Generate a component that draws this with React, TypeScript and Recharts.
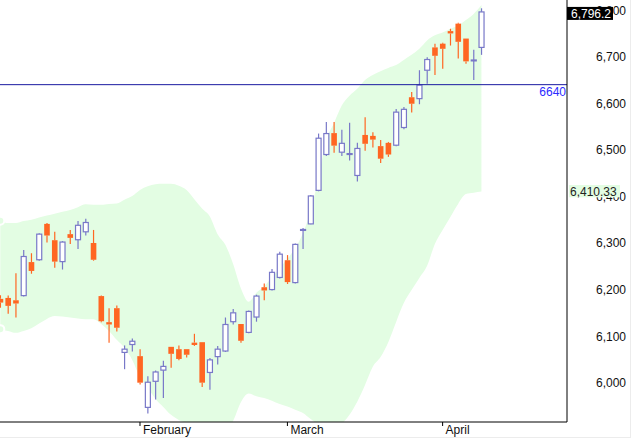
import { Area, Bar, CartesianGrid, ComposedChart, ReferenceLine, XAxis, YAxis } from 'recharts';

// daily OHLC, oldest first
const opens = [
  6180, 6182, 6177, 6187, 6259, 6264, 6341, 6306, 6260, 6319, 6307, 6324, 6300, 6186, 6130, 6160, 6065, 6082, 6057, 5947,
  6003, 6027, 6077, 6072, 6072, 6086, 6087, 6022, 6056, 6068, 6131, 6126, 6108, 6141, 6205, 6200, 6226, 6263, 6215, 6327,
  6341, 6413, 6490, 6536, 6495, 6490, 6445, 6532, 6530, 6508, 6515, 6510, 6548, 6613, 6610, 6671, 6720, 6728, 6755, 6771,
  6739, 6691, 6720
];
const highs = [
  6188, 6187, 6235, 6285, 6278, 6321, 6343, 6324, 6304, 6328, 6347, 6352, 6328, 6187, 6160, 6166, 6080, 6095, 6072, 6014,
  6026, 6047, 6077, 6080, 6072, 6105, 6087, 6053, 6079, 6140, 6158, 6126, 6155, 6189, 6213, 6244, 6281, 6274, 6299, 6332,
  6403, 6535, 6560, 6560, 6543, 6558, 6515, 6570, 6538, 6521, 6517, 6588, 6592, 6624, 6671, 6699, 6728, 6730, 6760, 6773,
  6739, 6715, 6804
];
const lows = [
  6161, 6148, 6140, 6185, 6234, 6262, 6301, 6247, 6243, 6298, 6287, 6316, 6262, 6130, 6086, 6110, 6029, 6067, 5996, 5934,
  5964, 5967, 6032, 6048, 6054, 6079, 5991, 5985, 6039, 6066, 6125, 6086, 6106, 6131, 6177, 6198, 6224, 6212, 6213, 6287,
  6340, 6411, 6487, 6494, 6487, 6477, 6432, 6498, 6505, 6472, 6485, 6508, 6544, 6580, 6598, 6642, 6661, 6674, 6724, 6696,
  6685, 6650, 6704
];
const closes = [
  6172, 6165, 6170, 6271, 6240, 6319, 6316, 6260, 6302, 6311, 6338, 6344, 6264, 6132, 6125, 6118, 6072, 6089, 6000, 6001,
  6023, 6035, 6062, 6051, 6060, 6081, 6000, 6049, 6072, 6125, 6150, 6090, 6153, 6186, 6198, 6237, 6276, 6216, 6297, 6329,
  6401, 6525, 6535, 6509, 6514, 6492, 6503, 6513, 6522, 6481, 6490, 6581, 6587, 6599, 6639, 6694, 6702, 6717, 6750, 6732,
  6690, 6693, 6796.2
];

// bollinger bands
const upperBand = [
  6348, 6343, 6343, 6347, 6350, 6355, 6359, 6363, 6367, 6371, 6377, 6383, 6382, 6382, 6384, 6385, 6393, 6401, 6414, 6422,
  6426, 6427, 6427, 6423, 6414, 6394, 6374, 6357, 6319, 6296, 6255, 6203, 6174, 6193, 6207, 6226, 6246, 6266, 6289, 6321,
  6369, 6440, 6520, 6557, 6595, 6616, 6631, 6650, 6661, 6669, 6676, 6682, 6693, 6704, 6717, 6735, 6746, 6752, 6760, 6767,
  6779, 6792, 6811
];
const lowerBand = [
  6115, 6111, 6107, 6111, 6117, 6127, 6137, 6143, 6142, 6140, 6138, 6136, 6136, 6126, 6111, 6092, 6075, 6049, 6012, 5989,
  5965, 5948, 5931, 5920, 5913, 5900, 5890, 5884, 5886, 5898, 5918, 5958, 5977, 5971, 5967, 5961, 5954, 5949, 5942, 5935,
  5922, 5910, 5900, 5900, 5912, 5931, 5959, 5995, 6034, 6055, 6087, 6130, 6171, 6199, 6225, 6251, 6298, 6328, 6356, 6384,
  6405, 6408, 6410.33
];

const monthTicks = [18, 37, 57];
const monthLabels = ['February', 'March', 'April'];
const priceTicks = [6000, 6100, 6200, 6300, 6400, 6500, 6600, 6700, 6800];
const resistance = 6640;

const UP = '#7878c8';
const DOWN = '#ff6622';
const BAND = '#e3fde3';
const FONT = 'Arial, "Liberation Sans", sans-serif';

const data = opens.map((open, i) => ({
  i,
  open,
  high: highs[i],
  low: lows[i],
  close: closes[i],
  range: [lows[i], highs[i]],
  band: [lowerBand[i], upperBand[i]]
}));

function Candle(props: any) {
  const { x, y, width, height, payload } = props;
  const { open, close, high, low } = payload;
  const yTop = Math.min(y, y + height);
  const h = Math.abs(height);
  const cx = x + width / 2;
  const toY = (v: number) => yTop + ((high - v) / (high - low)) * h;
  const bodyTop = toY(Math.max(open, close));
  const bodyBottom = toY(Math.min(open, close));
  const up = close >= open;
  const color = up ? UP : DOWN;

  return (
    <g>
      <line x1={cx} x2={cx} y1={yTop} y2={bodyTop} stroke={color} strokeWidth={1.2} />
      <line x1={cx} x2={cx} y1={bodyBottom} y2={yTop + h} stroke={color} strokeWidth={1.2} />
      {up ? (
        <rect x={cx - 2.5} y={bodyTop} width={5} height={Math.max(bodyBottom - bodyTop, 0.5)} fill="#fff" stroke={color} strokeWidth={1.2} />
      ) : (
        <rect x={cx - 2.8} y={bodyTop} width={5.6} height={Math.max(bodyBottom - bodyTop, 1.5)} fill={color} />
      )}
    </g>
  );
}

function MonthTick({ x, payload }: any) {
  const label = monthLabels[monthTicks.indexOf(payload.value)];
  return (
    <text x={x + 3} y={434} fontSize={12} fontFamily={FONT} fill="#111">
      {label}
    </text>
  );
}

// price labels are drawn as reference-line labels so the value boxes can sit on top of them
function PriceLabel({ viewBox, value }: any) {
  return (
    <text x={626} y={viewBox.y + 4.5} fontSize={12} fontFamily={FONT} fill="#111" textAnchor="end">
      {value.toLocaleString('en-US')}
    </text>
  );
}

function ResistanceLabel({ viewBox }: any) {
  return (
    <text x={viewBox.x + viewBox.width - 1} y={viewBox.y + 11.5} fontSize={12} fontFamily={FONT} fill="#2b2bff" textAnchor="end">
      {resistance}
    </text>
  );
}

function LastCloseLabel({ viewBox }: any) {
  const x = viewBox.x + viewBox.width;
  return (
    <g>
      <rect x={x} y={viewBox.y - 5} width={46} height={13} fill="#000" />
      <text x={x + 4} y={viewBox.y + 6} fontSize={12} fontFamily={FONT} fill="#fff">
        {closes[closes.length - 1].toLocaleString('en-US', { minimumFractionDigits: 1 })}
      </text>
    </g>
  );
}

function BandLabel({ viewBox }: any) {
  const x = viewBox.x + viewBox.width;
  return (
    <g>
      <rect x={x + 2} y={viewBox.y - 6.6} width={51} height={12.3} fill={BAND} />
      <text x={x + 3} y={viewBox.y + 4} fontSize={12} fontFamily={FONT} fill="#222">
        {lowerBand[lowerBand.length - 1].toLocaleString('en-US', { minimumFractionDigits: 2 })}
      </text>
    </g>
  );
}

export default function App() {
  return (
    <div
      style={{
        position: 'absolute',
        left: 0,
        top: 0,
        width: 630,
        height: 437,
        background: '#fff',
        borderRight: '1px solid #ececec',
        borderBottom: '1px solid #ececec'
      }}
    >
      <ComposedChart width={630} height={437} data={data} margin={{ top: 0, right: 0, bottom: 0, left: 0 }}>
        <XAxis
          dataKey="i"
          type="number"
          domain={[-0.04, 73.03]}
          allowDataOverflow
          ticks={monthTicks}
          interval={0}
          tick={<MonthTick />}
          tickSize={4}
          tickLine={{ stroke: '#000' }}
          axisLine={{ stroke: '#000' }}
          height={15}
        />
        <YAxis
          orientation="right"
          domain={[5915.6, 6821.8]}
          allowDataOverflow
          ticks={priceTicks}
          tick={false}
          tickLine={false}
          axisLine={{ stroke: '#000' }}
          width={63}
        />
        <Area dataKey="band" type="monotone" stroke="none" fill={BAND} fillOpacity={1} isAnimationActive={false} />
        <CartesianGrid stroke="#fff" strokeDasharray="1 7" />
        <ReferenceLine y={resistance} stroke="#1a1aa0" label={<ResistanceLabel />} />
        <Bar dataKey="range" barSize={6} shape={(p: any) => <Candle {...p} />} isAnimationActive={false} />
        {priceTicks.map((v) => (
          <ReferenceLine key={v} y={v} stroke="none" label={<PriceLabel value={v} />} />
        ))}
        <ReferenceLine y={lowerBand[lowerBand.length - 1]} stroke="none" label={<BandLabel />} />
        <ReferenceLine y={closes[closes.length - 1]} stroke="none" label={<LastCloseLabel />} />
      </ComposedChart>
    </div>
  );
}
